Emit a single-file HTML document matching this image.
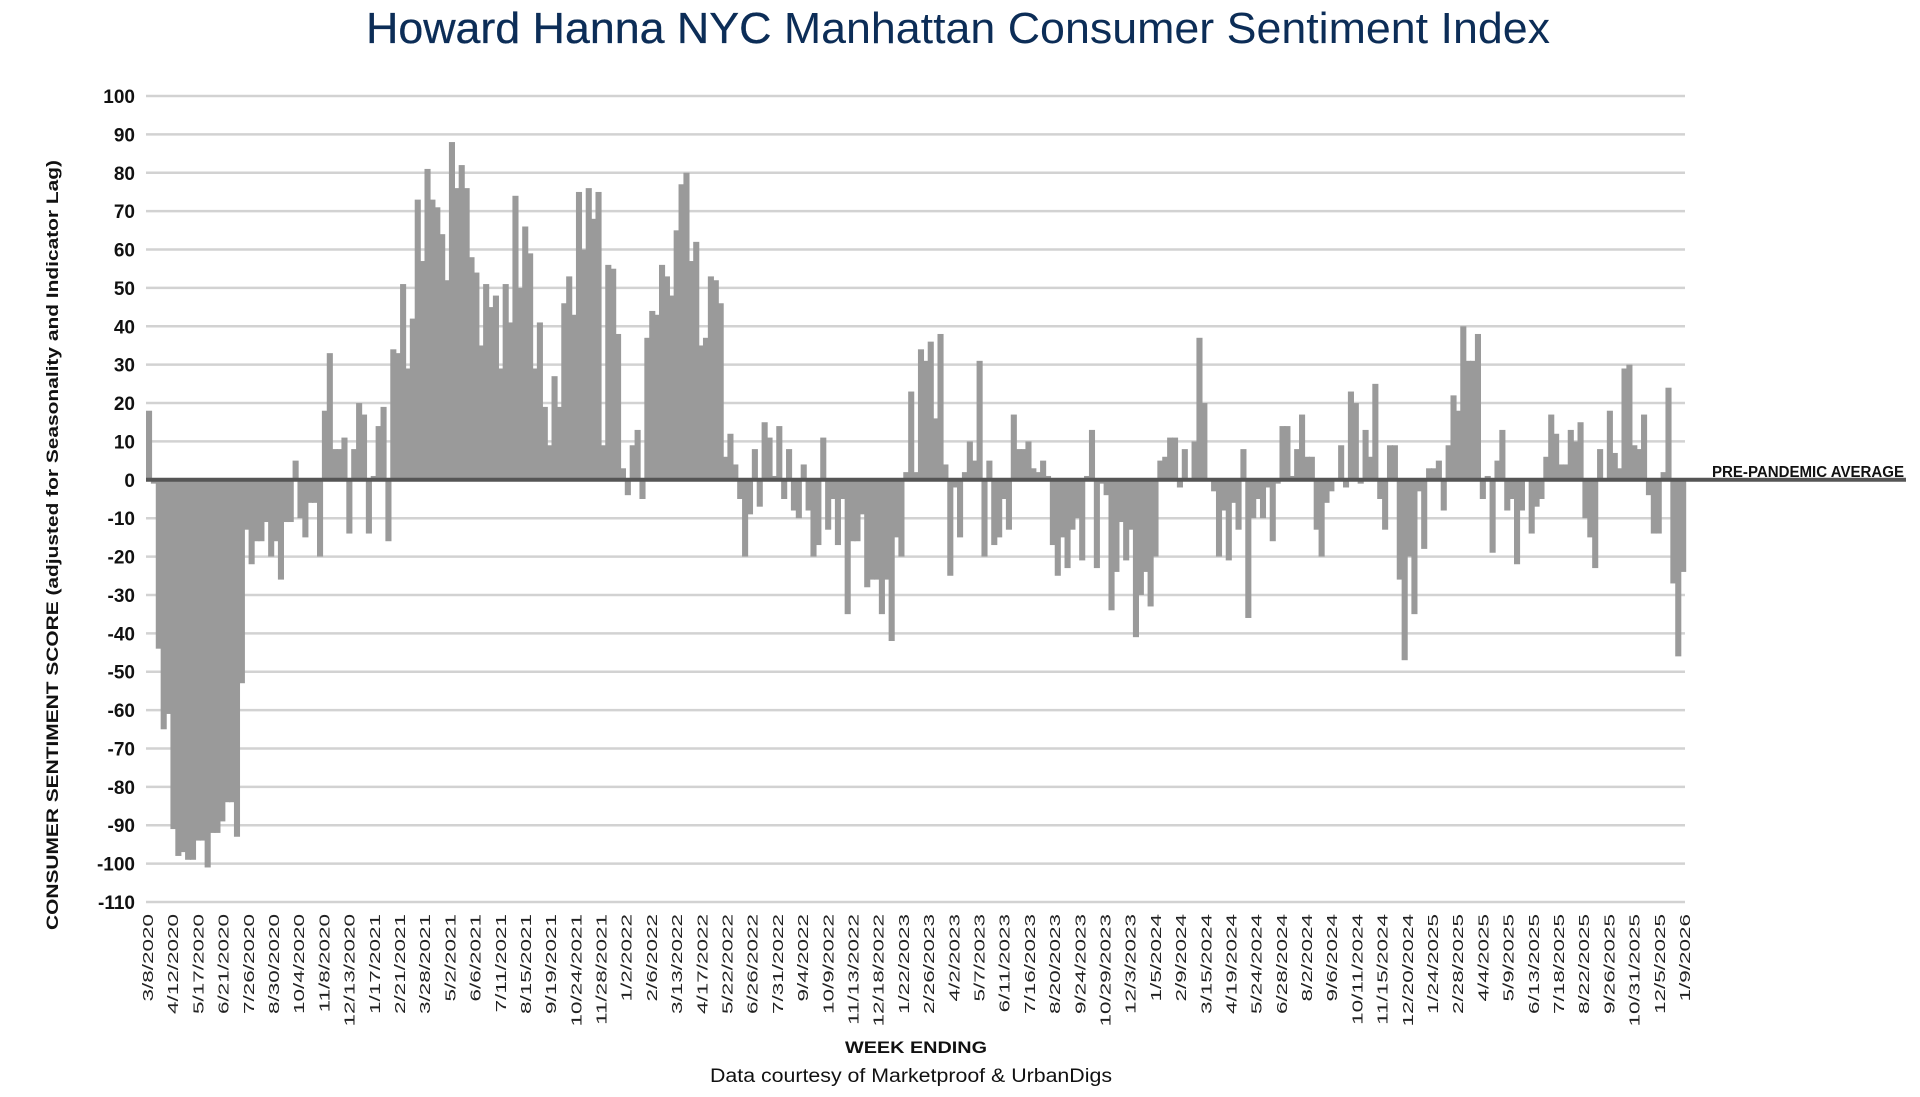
<!DOCTYPE html>
<html><head><meta charset="utf-8"><style>
html,body{margin:0;padding:0;background:#fff;}
svg{display:block;font-family:"Liberation Sans",sans-serif;}
</style></head><body>
<svg id="chart" width="1920" height="1097" viewBox="0 0 1920 1097" xmlns="http://www.w3.org/2000/svg">
<text x="366" y="43" font-size="44" fill="#0c2d57" textLength="1184" lengthAdjust="spacingAndGlyphs"><tspan stroke="#0c2d57" stroke-width="0.3">Howard Hanna NYC</tspan> Manhattan Consumer Sentiment Index</text>
<g id="grid"></g>
<g id="yticks"></g>
<g id="bars"></g>
<g id="xticks"></g>
<line id="zero" x1="146" x2="1906" stroke="#555" stroke-width="4"/>
<text x="1712" y="477" font-size="16" font-weight="bold" fill="#111" textLength="192" lengthAdjust="spacingAndGlyphs">PRE-PANDEMIC  AVERAGE</text>
<text transform="translate(58,545) rotate(-90)" text-anchor="middle" font-size="17" font-weight="bold" fill="#111" textLength="770" lengthAdjust="spacingAndGlyphs">CONSUMER SENTIMENT SCORE (adjusted for Seasonality and Indicator Lag)</text>
<text x="916" y="1053" text-anchor="middle" font-size="17" font-weight="bold" fill="#111" textLength="142" lengthAdjust="spacingAndGlyphs">WEEK ENDING</text>
<text x="911" y="1082" text-anchor="middle" font-size="19" fill="#111" textLength="402" lengthAdjust="spacingAndGlyphs">Data courtesy of Marketproof &amp; UrbanDigs</text>
</svg>
<script>
const yTicks = [100,90,80,70,60,50,40,30,20,10,0,-10,-20,-30,-40,-50,-60,-70,-80,-90,-100,-110];
const xLabels = ["3/8/2020","4/12/2020","5/17/2020","6/21/2020","7/26/2020","8/30/2020","10/4/2020","11/8/2020","12/13/2020","1/17/2021","2/21/2021","3/28/2021","5/2/2021","6/6/2021","7/11/2021","8/15/2021","9/19/2021","10/24/2021","11/28/2021","1/2/2022","2/6/2022","3/13/2022","4/17/2022","5/22/2022","6/26/2022","7/31/2022","9/4/2022","10/9/2022","11/13/2022","12/18/2022","1/22/2023","2/26/2023","4/2/2023","5/7/2023","6/11/2023","7/16/2023","8/20/2023","9/24/2023","10/29/2023","12/3/2023","1/5/2024","2/9/2024","3/15/2024","4/19/2024","5/24/2024","6/28/2024","8/2/2024","9/6/2024","10/11/2024","11/15/2024","12/20/2024","1/24/2025","2/28/2025","4/4/2025","5/9/2025","6/13/2025","7/18/2025","8/22/2025","9/26/2025","10/31/2025","12/5/2025","1/9/2026"];
const values2020 = [18,-1,-44,-65,-61,-91,-98,-97,-99,-99,-94,-94,-101,-92,-92,-89,-84,-84,-93,-53,-13,-22,-16,-16,-11,-20,-16,-26,-11,-11,5,-10,-15,-6,-6,-20,18,33,8,8,11,-14,8,20,17,-14,1,14,19,-16,34,33,51];
const values2021 = [29,42,73,57,81,73,71,64,52,88,76,82,76,58,54,35,51,45,48,29,51,41,74,50,66,59,29,41,19,9,27,19,46,53,43,75,60,76,68,75,9,56,55,38,3,-4,9,13,-5,37,44,43,56];
const values2022 = [53,48,65,77,80,57,62,35,37,53,52,46,6,12,4,-5,-20,-9,8,-7,15,11,1,14,-5,8,-8,-10,4,-8,-20,-17,11,-13,-5,-17,-5,-35,-16,-16,-9,-28,-26,-26,-35,-26,-42,-15,-20,2,23];
const values2023 = [2,34,31,36,16,38,4,-25,-2,-15,2,10,5,31,-20,5,-17,-15,-5,-13,17,8,8,10,3,2,5,1,-17,-25,-15,-23,-13,-10,-21,1,13,-23,-1,-4,-34,-24,-11,-21,-13,-41,-30,-24,-33,-20,5,6,11];
const values2024 = [11,-2,8,0,10,37,20,0,-3,-20,-8,-21,-6,-13,8,-36,-10,-5,-10,-2,-16,-1,14,14,1,8,17,6,6,-13,-20,-6,-3,0,9,-2,23,20,-1,13,6,25,-5,-13,9,9,-26,-47,-20,-35,-3,-18,3];
const values2025 = [3,5,-8,9,22,18,40,31,31,38,-5,1,-19,5,13,-8,-5,-22,-8,0,-14,-7,-5,6,17,12,4,4,13,10,15,-10,-15,-23,8,0,18,7,3,29,30,9,8,17,-4,-14,-14,2,24,-27,-46,-24];

const values = values2020.concat(values2021, values2022, values2023, values2024, values2025);
const NS = "http://www.w3.org/2000/svg";
const L = 146, R = 1685, yTop = 96, yBot = 902, vTop = 100, vBot = -110;
function y(v){ return yTop + (vTop - v) * (yBot - yTop) / (vTop - vBot); }
const step = (R - L) / values.length;
function x(i){ return L + i * step; }
function mk(tag, attrs, parent){ const e = document.createElementNS(NS, tag); for (const k in attrs) e.setAttribute(k, attrs[k]); parent.appendChild(e); return e; }

const grid = document.getElementById('grid'), yt = document.getElementById('yticks');
yTicks.forEach(t => {
  const g = mk('line', {x1: L, x2: R, y1: y(t), y2: y(t), stroke: '#d2d2d2', 'stroke-width': 2.5}, grid);
  
  
  const lb = mk('text', {x: 135, y: y(t) + 7, 'text-anchor': 'end', 'font-size': 19, 'font-weight': 'bold', fill: '#111'}, yt);
  
  
  lb.textContent = t;
});

const bars = document.getElementById('bars');
values.forEach((v, i) => {
  const y0 = y(0), y1 = y(v);
  const r = mk('rect', {x: x(i), y: Math.min(y0, y1), width: step + 1.2, height: Math.max(1, Math.abs(y1 - y0)), fill: '#9a9a9a'}, bars);
  
  
});
const z = document.getElementById('zero');
z.setAttribute('y1', y(0)); z.setAttribute('y2', y(0));

const xt = document.getElementById('xticks');
xLabels.forEach((s, k) => {
  const px = L + 2 + k * (R - L - 2) / (xLabels.length - 1);
  const t = mk('text', {transform: 'translate(' + (px + 5) + ',914) rotate(-90) scale(1.5,1)', 'text-anchor': 'end', 'font-size': 15, fill: '#222'}, xt);
  
  
  t.textContent = s;
});
</script>
</body></html>
